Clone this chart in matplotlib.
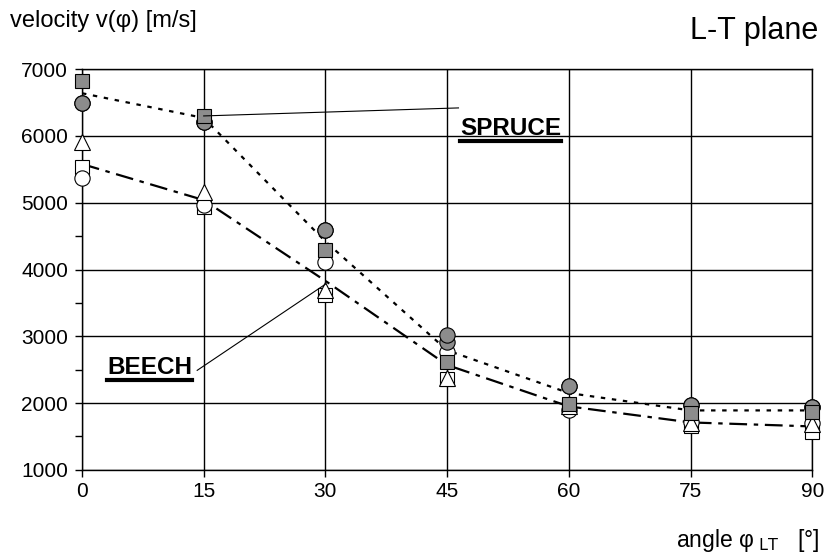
import matplotlib.pyplot as plt
from matplotlib.ticker import MultipleLocator
from matplotlib.lines import Line2D

plt.rcParams['font.family'] = ['Liberation Sans', 'DejaVu Sans']

angles = [0, 15, 30, 45, 60, 75, 90]

# spruce (grey markers, dotted line)
spruce_sq = [6820, 6300, 4290, 2620, 1990, 1850, 1870]
spruce_ci = [6490, 6210, 4590, 3020, 2260, 1970, 1940]
spruce_ci2 = [6490, 6210, 4590, 2920, 2260, 1970, 1940]
spruce_fit = [6640, 6270, 4420, 2790, 2150, 1890, 1890]

# beech (white markers, dash-dot line)
beech_tri = [5910, 5160, 3700, 2380, 1960, 1700, 1690]
beech_sq = [5530, 4930, 3620, 2360, 1950, 1650, 1570]
beech_ci = [5370, 4960, 4110, 2770, 1900, 1720, 1700]
beech_fit = [5580, 5040, 3830, 2570, 1950, 1710, 1650]

fig = plt.figure(figsize=(8.28, 5.58), dpi=100)
ax = fig.add_axes([0.099, 0.158, 0.882, 0.718])

ax.plot(angles, spruce_fit, color='black', lw=1.6, ls=(0, (2, 3)), zorder=3)
ax.plot(angles, beech_fit, color='black', lw=1.6, ls=(0, (8, 3, 2, 3)), zorder=3)

mk = dict(ls='none', mec='black', mew=0.8, zorder=4, clip_on=False)
ax.plot(angles, beech_sq, marker='s', ms=10, mfc='white', **mk)
ax.plot(angles, beech_ci, marker='o', ms=11, mfc='white', **mk)
ax.plot(angles, beech_tri, marker='^', ms=12, mfc='white', **mk)
ax.plot(angles, spruce_ci2, marker='o', ms=11, mfc='#8c8c8c', **mk)
ax.plot(angles, spruce_ci, marker='o', ms=11, mfc='#8c8c8c', **mk)
ax.plot(angles, spruce_sq, marker='s', ms=10, mfc='#8c8c8c', **mk)

ax.set_xlim(0, 90)
ax.set_ylim(1000, 7000)
ax.xaxis.set_major_locator(MultipleLocator(15))
ax.yaxis.set_major_locator(MultipleLocator(1000))
ax.yaxis.set_minor_locator(MultipleLocator(500))
ax.grid(True, which='major', color='black', lw=1)
ax.set_axisbelow(True)
ax.tick_params(axis='both', which='major', direction='out', length=5, width=1,
               labelsize=15, color='black')
ax.tick_params(axis='y', which='minor', direction='out', length=5, width=1)
ax.tick_params(axis='x', pad=4)
ax.tick_params(axis='y', pad=5)
for s in ax.spines.values():
    s.set_color('black')
    s.set_linewidth(1)

# labels with leader lines
ax.plot([15, 46.4], [6300, 6420], color='black', lw=0.8, zorder=5)
ax.plot([14.2, 30], [2490, 3780], color='black', lw=0.8, zorder=5)
t1 = ax.text(46.6, 6110, 'SPRUCE', fontsize=17.5, fontweight='bold', va='center', ha='left', zorder=6)
t2 = ax.text(3.1, 2540, 'BEECH', fontsize=17.5, fontweight='bold', va='center', ha='left', zorder=6)

fig.text(0.012, 0.962, 'velocity v(φ) [m/s]', fontsize=17, va='center', ha='left')
fig.text(0.988, 0.945, 'L-T plane', fontsize=22, va='center', ha='right')
fig.text(0.99, 0.032, r'angle φ$_{\rm\ LT}$   [°]', fontsize=16.5, va='center', ha='right')

# underline the species labels
fig.canvas.draw()
r = fig.canvas.get_renderer()
for t in (t1, t2):
    bb = t.get_window_extent(r)
    y = bb.y0 - 1
    fig.add_artist(Line2D([bb.x0, bb.x1], [y, y], transform=None, color='black', lw=3))

fig.savefig('out.png', dpi=100)
